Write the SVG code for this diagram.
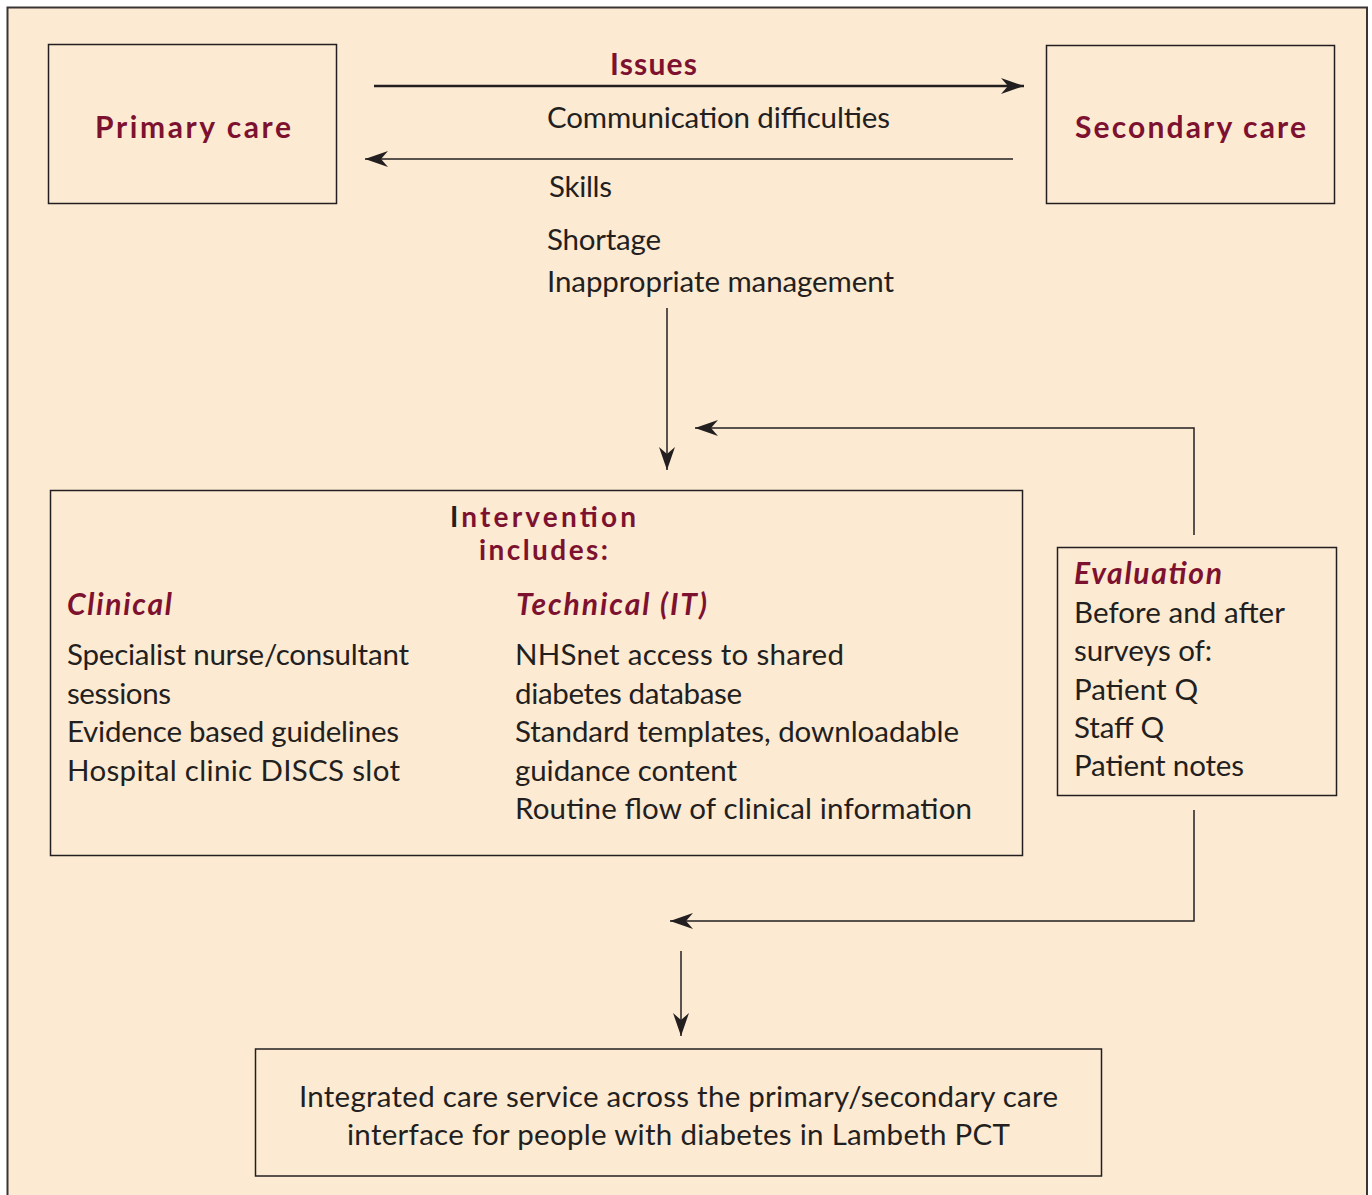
<svg xmlns="http://www.w3.org/2000/svg" width="1372" height="1195" viewBox="0 0 1372 1195">
  <style>
    .box { fill: none; stroke: #231F20; stroke-width: 1.5; }
    .t { font-family: Lato, "Open Sans", "Liberation Sans", sans-serif; font-size: 29.5px; fill: #231F20; }
    .h { font-family: Lato, "Open Sans", "Liberation Sans", sans-serif; font-size: 30px; font-weight: bold; fill: #7D1230; }
    .h2 { font-family: Lato, "Open Sans", "Liberation Sans", sans-serif; font-size: 28px; font-weight: bold; fill: #7D1230; }
    .hi { font-family: Lato, "Open Sans", "Liberation Sans", sans-serif; font-size: 30px; font-weight: bold; font-style: italic; fill: #7D1230; }
    .c { fill: none; stroke: #231F20; stroke-width: 1.5; }
    .ct { fill: none; stroke: #231F20; stroke-width: 2.5; }
  </style>
  <defs>
    <marker id="ah" viewBox="-24 -10 26 20" refX="0" refY="0" markerWidth="26" markerHeight="20" markerUnits="userSpaceOnUse" orient="auto">
      <path d="M0,0 L-23,-8 L-16,0 L-23,8 Z" fill="#231F20"/>
    </marker>
  </defs>
  <rect x="7.5" y="7.5" width="1359.5" height="1200" fill="#FDEAD2" stroke="#3A3535" stroke-width="2"/>

  <g id="connectors">
    <line class="ct" x1="374" y1="86" x2="1024" y2="86" marker-end="url(#ah)"/>
    <line class="c" x1="1013" y1="159" x2="365" y2="159" marker-end="url(#ah)"/>
    <line class="c" x1="667" y1="308" x2="667" y2="470" marker-end="url(#ah)"/>
    <polyline class="c" points="1194,535 1194,428 695,428" marker-end="url(#ah)"/>
    <polyline class="c" points="1194,810 1194,921 670,921" marker-end="url(#ah)"/>
    <line class="c" x1="681" y1="951" x2="681" y2="1036" marker-end="url(#ah)"/>
  </g>

  <g id="primary-care">
    <rect class="box" x="48.5" y="44.5" width="288" height="159"/>
    <text class="h" x="193" y="138" text-anchor="middle" textLength="196" lengthAdjust="spacing">Primary care</text>
  </g>

  <g id="secondary-care">
    <rect class="box" x="1046.5" y="45.5" width="288" height="158"/>
    <text class="h" x="1190.5" y="138" text-anchor="middle" textLength="231" lengthAdjust="spacing">Secondary care</text>
  </g>

  <g id="issues">
    <text class="h" x="653.5" y="75" text-anchor="middle" textLength="87" lengthAdjust="spacing">Issues</text>
    <text class="t" x="547" y="128" textLength="343" lengthAdjust="spacing">Communication difficulties</text>
    <text class="t" x="549" y="197" textLength="63" lengthAdjust="spacing">Skills</text>
    <text class="t" x="547" y="250" textLength="114" lengthAdjust="spacing">Shortage</text>
    <text class="t" x="547" y="292" textLength="347" lengthAdjust="spacing">Inappropriate management</text>
  </g>

  <g id="intervention">
    <rect class="box" x="50.5" y="490.5" width="972" height="365"/>
    <text class="h2" x="543" y="527" text-anchor="middle" textLength="186" lengthAdjust="spacing"><tspan fill="#231F20">I</tspan>ntervention</text>
    <text class="h2" x="543.5" y="560" text-anchor="middle" textLength="129" lengthAdjust="spacing">includes:</text>
    <text class="hi" x="67" y="615" textLength="105" lengthAdjust="spacing">Clinical</text>
    <text class="t" x="67" y="665" textLength="342" lengthAdjust="spacing">Specialist nurse/consultant</text>
    <text class="t" x="67" y="704" textLength="104" lengthAdjust="spacing">sessions</text>
    <text class="t" x="67" y="742" textLength="332" lengthAdjust="spacing">Evidence based guidelines</text>
    <text class="t" x="67" y="781" textLength="333" lengthAdjust="spacing">Hospital clinic DISCS slot</text>
    <text class="hi" x="516" y="615" textLength="191" lengthAdjust="spacing">Technical (IT)</text>
    <text class="t" x="515" y="665" textLength="329" lengthAdjust="spacing">NHSnet access to shared</text>
    <text class="t" x="515" y="704" textLength="227" lengthAdjust="spacing">diabetes database</text>
    <text class="t" x="515" y="742" textLength="444" lengthAdjust="spacing">Standard templates, downloadable</text>
    <text class="t" x="515" y="781" textLength="222" lengthAdjust="spacing">guidance content</text>
    <text class="t" x="515" y="819" textLength="457" lengthAdjust="spacing">Routine flow of clinical information</text>
  </g>

  <g id="evaluation">
    <rect class="box" x="1057.5" y="547.5" width="279" height="248"/>
    <text class="hi" x="1074" y="584" textLength="148" lengthAdjust="spacing">Evaluation</text>
    <text class="t" x="1074" y="623" textLength="211" lengthAdjust="spacing">Before and after</text>
    <text class="t" x="1074" y="661" textLength="138" lengthAdjust="spacing">surveys of:</text>
    <text class="t" x="1074" y="700" textLength="124" lengthAdjust="spacing">Patient Q</text>
    <text class="t" x="1074" y="738" textLength="90" lengthAdjust="spacing">Staff Q</text>
    <text class="t" x="1074" y="776" textLength="170" lengthAdjust="spacing">Patient notes</text>
  </g>

  <g id="outcome">
    <rect class="box" x="255.5" y="1049" width="846" height="127"/>
    <text class="t" x="678.5" y="1107" text-anchor="middle" textLength="759" lengthAdjust="spacing">Integrated care service across the primary/secondary care</text>
    <text class="t" x="678.5" y="1145" text-anchor="middle" textLength="663" lengthAdjust="spacing">interface for people with diabetes in Lambeth PCT</text>
  </g>
</svg>
